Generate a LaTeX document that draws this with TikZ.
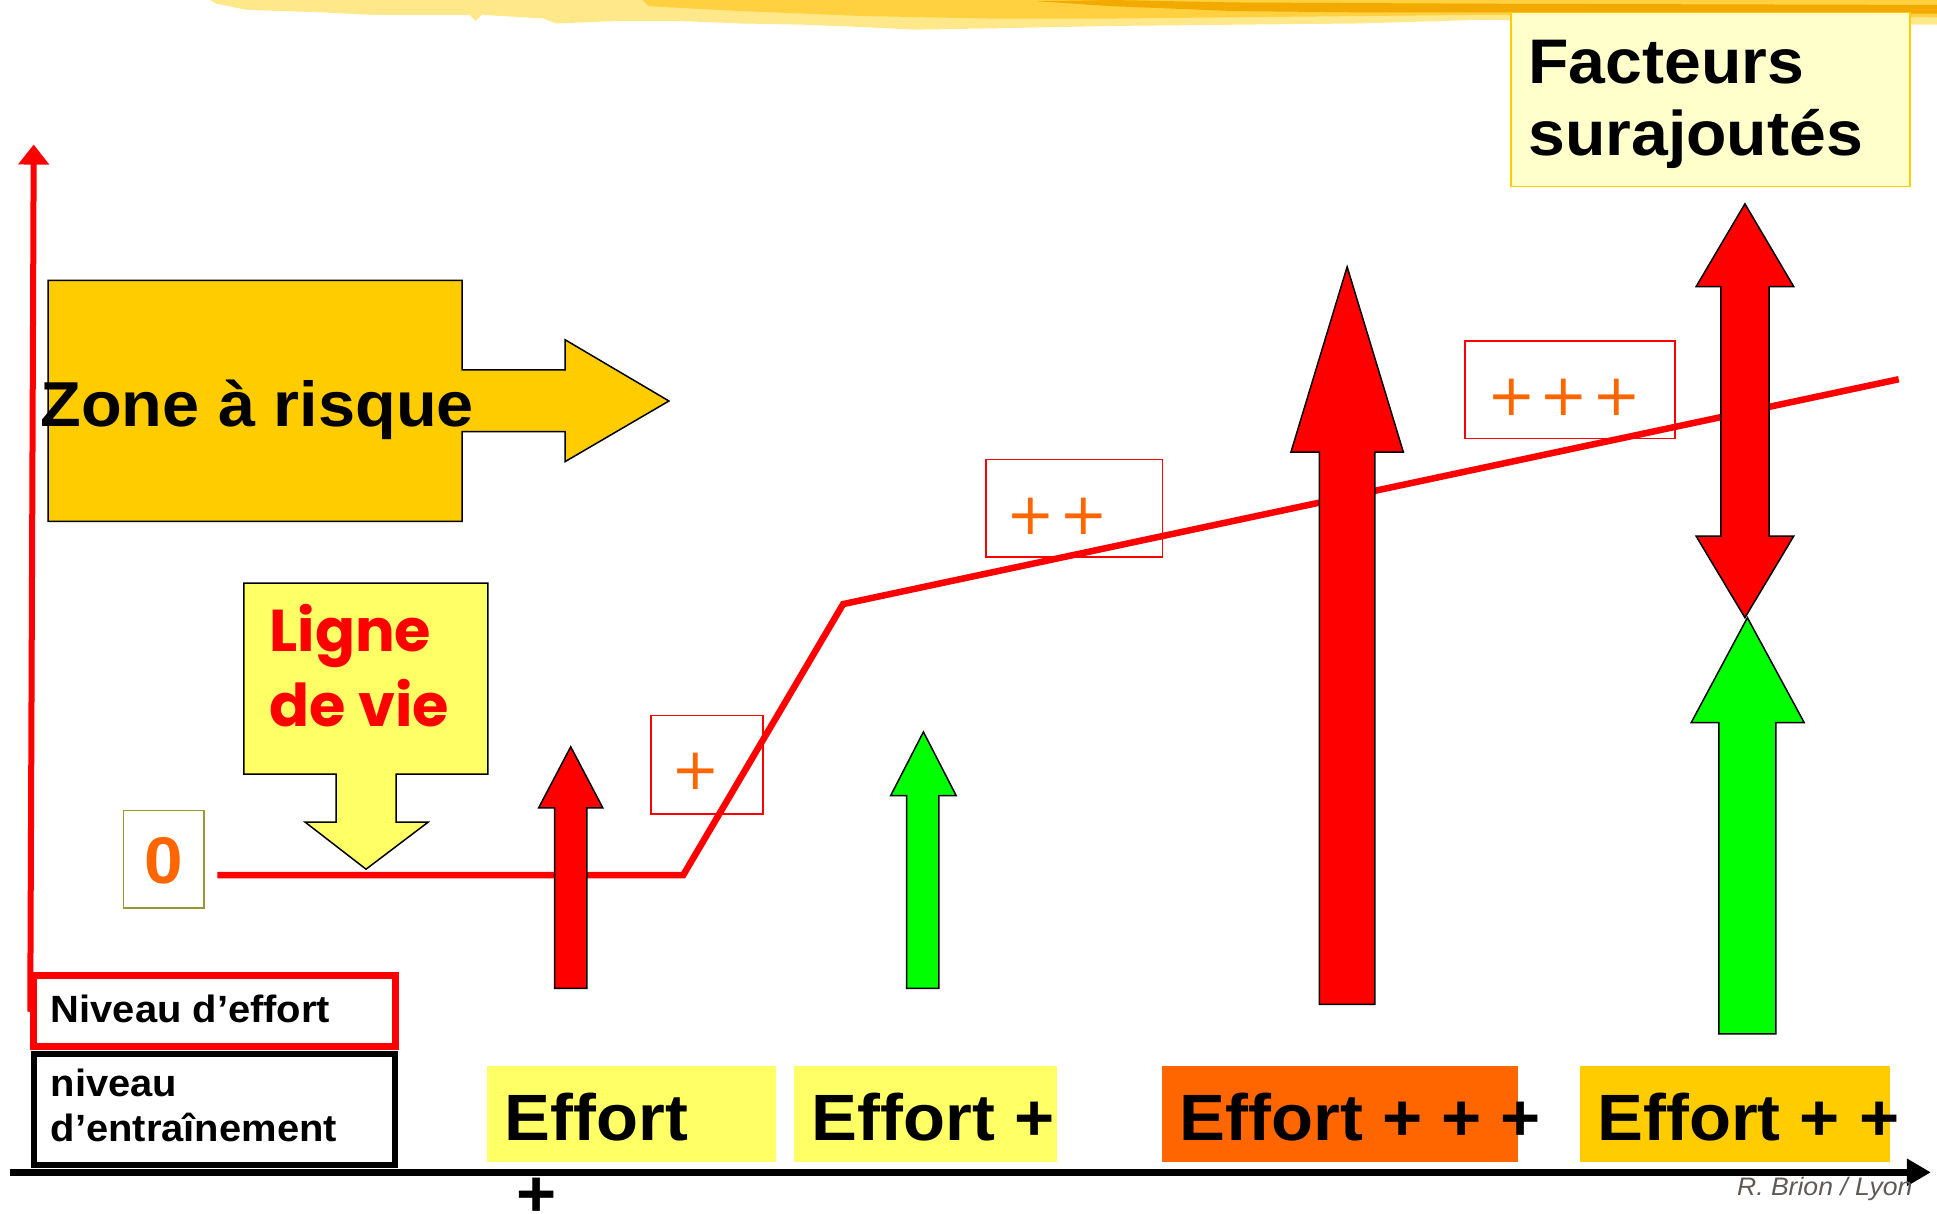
\documentclass[tikz,border=0pt]{standalone}
\usepackage{fontspec}
\setmainfont{Liberation Sans}[FakeStretch=1.05]
\newfontfamily\plusfont{DejaVu Sans}
\newfontfamily\comicfont{Poppins}
\usepackage{xcolor}
\usepackage{tikz}
\usetikzlibrary{arrows.meta}

\definecolor{effyellow}{HTML}{FFFF66}
\definecolor{effgold}{HTML}{FFCC00}
\definecolor{efforange}{HTML}{FF6600}
\definecolor{paleyellow}{HTML}{FFFFCC}
\definecolor{olivebox}{HTML}{999933}
\definecolor{brushlight}{HTML}{FFE88A}
\definecolor{brushmid}{HTML}{FFD040}
\definecolor{brushdark}{HTML}{F2AA00}
\definecolor{signgray}{HTML}{5F5A55}
\definecolor{arrowgreen}{HTML}{00FF00}

\begin{document}
\begin{tikzpicture}[x=1.2353pt, y=-1.2353pt,
	outl/.style={draw=black, line width=1.5pt},
	life/.style={draw=red, line width=6.5pt},
	plusbox/.style={draw=red, line width=1.5pt},
	pluslbl/.style={text=efforange, font=\plusfont\fontsize{58}{60}\selectfont, inner sep=0pt},
	efftxt/.style={font=\bfseries\fontsize{65.5}{78}\selectfont, inner sep=0pt, anchor=base west},
	bigtxt/.style={font=\bfseries\fontsize{63}{72}\selectfont, inner sep=0pt, anchor=base west},
	smalltxt/.style={font=\bfseries\fontsize{38}{45}\selectfont, inner sep=0pt, anchor=base west},
	comictxt/.style={text=red, font=\comicfont\bfseries\fontsize{59}{75}\selectfont, inner sep=0pt, anchor=base west}
	]
	\useasboundingbox (0,0) rectangle (1568,982);
	
	% brush stroke at the top
	\fill[brushlight] (170,0) -- (175,3) -- (200,8) -- (260,10) -- (300,12) -- (380,12) -- (385,17) -- (390,12) -- (440,15) -- (450,19) -- (500,17) -- (550,17) -- (600,19) -- (650,20) -- (700,22) -- (740,24) -- (800,23) -- (850,22) -- (900,21) -- (1000,20) -- (1100,19) -- (1200,16) -- (1300,18) -- (1450,19) -- (1568,20) -- (1568,0) -- cycle;
	\fill[brushmid] (520,0) -- (525,5) -- (600,9) -- (700,13) -- (800,15) -- (900,15) -- (1000,14) -- (1100,13) -- (1200,12) -- (1568,14) -- (1568,0) -- cycle;
	\fill[brushdark] (840,1) -- (900,5) -- (1000,9) -- (1100,10) -- (1200,10) -- (1568,11) -- (1568,4) -- (1200,3) -- (1000,2) -- (900,0) -- cycle;
	
	% facteurs
	\draw[draw=effgold, line width=1.5pt, fill=paleyellow] (1223,10) rectangle (1546,151);
	\node[bigtxt] (fact1) at (1237,67.5) {Facteurs};
	\node[bigtxt] (fact2) at (1237,125.5) {surajoutés};
	
	% axes
	\coordinate (yfoot) at (24.5,819);
	\coordinate (ytip) at (27.3,117);
	\coordinate (xorig) at (8,949);
	\coordinate (xtip) at (1563,949);
	\draw[red, line width=6pt, -{Triangle[length=20pt,width=30pt]}] (yfoot) -- (ytip);
	\draw[black, line width=7pt, -{Triangle[length=24pt,width=26pt]}] (xorig) -- (xtip);
	
	% niveau
	\draw[red, line width=7pt, fill=white] (27.5,789.5) rectangle (320,847);
	\draw[black, line width=6pt, fill=white] (27.5,853) rectangle (320,943);
	\node[smalltxt] (effort) at (41,828) {Niveau d’effort};
	\node[smalltxt] (entr1) at (41,887.8) {niveau};
	\node[smalltxt] (entr2) at (41,924.2) {d’entraînement};
	
	% zone a risque
	\draw[outl, fill=effgold] (39,227) -- (374,227) -- (374,299.5) -- (457.4,299.5) -- (457.4,275) -- (541.5,324.6) -- (457.4,373.7) -- (457.4,349.4) -- (374,349.4) -- (374,422) -- (39,422) -- cycle;
	\node[font=\bfseries\fontsize{63.5}{78}\selectfont, inner sep=0pt, anchor=base west] (zone) at (32.6,345) {Zone à risque};
	
	% ligne de vie
	\draw[outl, fill=effyellow] (197.5,472) -- (395,472) -- (395,626.6) -- (320.6,626.6) -- (320.6,665.5) -- (346.6,665.5) -- (296.3,703.6) -- (247,665.5) -- (272,665.5) -- (272,626.6) -- (197.5,626.6) -- cycle;
	\node[comictxt] (ligne1) at (218,527.5) {Ligne};
	\node[comictxt] (ligne2) at (218,588.2) {de vie};
	
	% zero
	\draw[draw=olivebox, line width=1.5pt] (100,656) rectangle (165,735);
	\node[text=efforange, font=\bfseries\fontsize{66}{70}\selectfont, inner sep=0pt] (zero) at (132.5,697) {0};
	
	% plus boxes
	\draw[plusbox] (527,579) rectangle (617.6,659);
	\draw[plusbox] (798,372) rectangle (941,451);
	\draw[plusbox] (1186,276) rectangle (1356,355);
	\node[pluslbl] (p1) at (563.4,624.7) {+};
	\node[pluslbl] (p2) at (856,418) {+\kern4pt+};
	\node[pluslbl] (p3) at (1266,322) {+\kern4pt+\kern4pt+};
	
	% lifeline
	\coordinate (l0) at (176,708.5);
	\coordinate (l1) at (553,708.5);
	\coordinate (l2) at (682.5,489);
	\coordinate (l3) at (1537,307);
	\draw[life] (l0) -- (l1) -- (l2) -- (l3);
	
	% effort arrows
	\draw[outl, fill=red] (449,800) -- (449,654) -- (436,654) -- (462,604.5) -- (488,654) -- (475,654) -- (475,800) -- cycle;
	\draw[outl, fill=arrowgreen] (734,800) -- (734,644) -- (721,644) -- (747.5,592.5) -- (774,644) -- (760,644) -- (760,800) -- cycle;
	\draw[outl, fill=red] (1068,813) -- (1068,366) -- (1045,366) -- (1090.5,216) -- (1136,366) -- (1113,366) -- (1113,813) -- cycle;
	\draw[outl, fill=arrowgreen] (1391.5,837) -- (1391.5,585) -- (1369,585) -- (1414.5,500) -- (1460.5,585) -- (1437.5,585) -- (1437.5,837) -- cycle;
	\draw[outl, fill=red] (1393,232) -- (1373,232) -- (1412.5,165) -- (1452,232) -- (1432,232) -- (1432,434) -- (1452,434) -- (1412.5,500) -- (1373,434) -- (1393,434) -- cycle;
	
	% effort labels
	\fill[effyellow] (394.5,863) rectangle (627.8,941);
	\fill[effyellow] (643,863) rectangle (856,941);
	\fill[efforange] (941,863) rectangle (1228.7,941);
	\fill[effgold] (1279,863) rectangle (1530,941);
	\node[efftxt] (e1) at (408.5,923) {Effort};
	\node[efftxt] (e1b) at (418,985) {+};
	\node[efftxt] (e2) at (657,923) {Effort +};
	\node[efftxt] (e3) at (955,923) {Effort + + +};
	\node[efftxt] (e4) at (1293,923) {Effort + +};
	
	\node[text=signgray, font=\itshape\fontsize{25.3}{30}\selectfont, inner sep=0pt, anchor=base west] (sign) at (1406,968) {R. Brion / Lyon};
\end{tikzpicture}
\end{document}
